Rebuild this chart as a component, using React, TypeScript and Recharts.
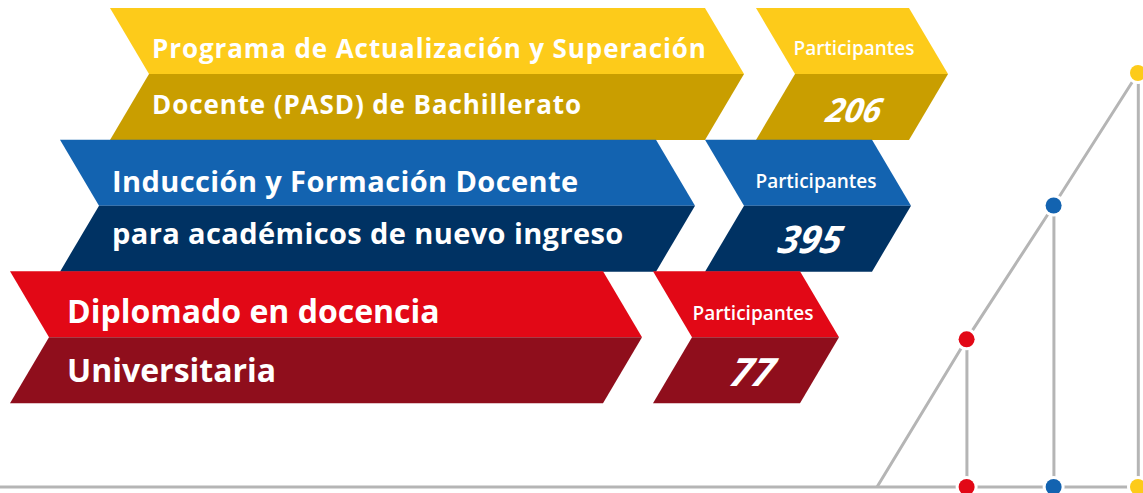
import React from 'react';
import { BarChart, Bar, XAxis, YAxis, ComposedChart, Line, Scatter, ReferenceLine } from 'recharts';

const WIDTH = 1143;
const HEIGHT = 493;
const FONT = '"Open Sans", "Noto Sans", sans-serif';

// programs, top to bottom
const TITLE_LINE_1 = [
  'Programa de Actualización y Superación',
  'Inducción y Formación Docente',
  'Diplomado en docencia',
];
const TITLE_LINE_2 = [
  'Docente (PASD) de Bachillerato',
  'para académicos de nuevo ingreso',
  'Universitaria',
];
const PARTICIPANTS = [206, 395, 77];
const PARTICIPANTS_LABEL = 'Participantes';

// staircase on the right (step position, step height), program shown at each step
const STEP_X = [0, 1.03, 2.03, 3];
const STEP_Y = [0, 1.07, 2.04, 3];
const STEP_PROGRAM = [-1, 2, 1, 0];

const COLORS = [
  { light: '#FDCB1A', dark: '#C99E00' },
  { light: '#1363B0', dark: '#003263' },
  { light: '#E20816', dark: '#8F0E1C' },
];
const GRAY = '#B5B5B5';

// ribbon layout per row (pixels)
const ROWS = [
  { left: 110, titleRight: 705, partLeft: 756, partRight: 909, textX: 152, fs: 26, ls: 0.9, l1: -16, l2: 40, partX: 854, partDy: -19, numX: 852, numSize: 33, numDy: 48 },
  { left: 60, titleRight: 656, partLeft: 705, partRight: 872, textX: 112, fs: 29, ls: 0.4, l1: -14, l2: 38, partX: 816, partDy: -18, numX: 808, numSize: 38, numDy: 47 },
  { left: 10, titleRight: 603, partLeft: 653, partRight: 800, textX: 67, fs: 32, ls: 0, l1: -14, l2: 45, partX: 753, partDy: -17, numX: 750, numSize: 39, numDy: 49 },
];
const ARROW = 39;

const ribbonData = PARTICIPANTS.map((value, i) => ({
  name: TITLE_LINE_1[i],
  sub: TITLE_LINE_2[i],
  value,
}));

const stepData = STEP_X.map((x, i) => ({ x, y: STEP_Y[i], program: STEP_PROGRAM[i] }));
const baseData = stepData.slice(1).map((d) => ({ x: d.x, y: 0, program: d.program }));

// x domain so that the baseline runs across the whole width
const PX_PER_STEP = 87;
const STEP_ORIGIN = 877;
const X_DOMAIN = [-STEP_ORIGIN / PX_PER_STEP, 3 + (WIDTH - STEP_ORIGIN - 3 * PX_PER_STEP) / PX_PER_STEP];

function upper(l: number, r: number, top: number, mid: number) {
  return `M${l},${top} L${r},${top} L${r + ARROW},${mid} L${l + ARROW},${mid} Z`;
}
function lower(l: number, r: number, mid: number, bot: number) {
  return `M${l + ARROW},${mid} L${r + ARROW},${mid} L${r},${bot} L${l},${bot} Z`;
}

function Ribbon(props: any) {
  const { y, height, index, payload } = props;
  const row = ROWS[index];
  const c = COLORS[index];
  const top = y;
  const mid = y + height / 2;
  const bot = y + height;
  return (
    <g>
      <path d={upper(row.left, row.titleRight, top, mid)} fill={c.light} />
      <path d={lower(row.left, row.titleRight, mid, bot)} fill={c.dark} />
      <path d={upper(row.partLeft, row.partRight, top, mid)} fill={c.light} />
      <path d={lower(row.partLeft, row.partRight, mid, bot)} fill={c.dark} />
      <text x={row.textX} y={mid + row.l1} fill="#fff" fontSize={row.fs} fontWeight={700} fontFamily={FONT} letterSpacing={row.ls}>
        {payload.name}
      </text>
      <text x={row.textX} y={mid + row.l2} fill="#fff" fontSize={row.fs} fontWeight={700} fontFamily={FONT} letterSpacing={row.ls}>
        {payload.sub}
      </text>
      <text x={row.partX} y={mid + row.partDy} fill="#fff" fontSize={19} fontWeight={600} fontFamily={FONT} textAnchor="middle">
        {PARTICIPANTS_LABEL}
      </text>
      <text
        transform={`translate(${row.numX},${mid + row.numDy}) skewX(-12)`}
        fill="#fff"
        fontSize={row.numSize}
        fontWeight={700}
        fontStyle="italic"
        fontFamily={FONT}
        textAnchor="middle"
      >
        {payload.value}
      </text>
    </g>
  );
}

function StepDot(props: any) {
  const { cx, cy, payload, index } = props;
  if (payload.program < 0) return <g key={`d${index}`} />;
  return (
    <g key={`d${index}`}>
      <circle cx={cx} cy={cy} r={11} fill="#fff" />
      <circle cx={cx} cy={cy} r={8} fill={COLORS[payload.program].light} />
    </g>
  );
}

export default function App() {
  return (
    <div style={{ position: 'fixed', left: 0, top: 0, width: WIDTH, height: HEIGHT, background: '#fff' }}>
      <div style={{ position: 'absolute', left: 0, top: 0 }}>
        <BarChart
          layout="vertical"
          width={WIDTH}
          height={HEIGHT}
          data={ribbonData}
          margin={{ top: 8, right: 0, bottom: 90, left: 0 }}
          barCategoryGap={0}
        >
          <XAxis type="number" hide domain={[0, 1]} />
          <YAxis type="category" dataKey="name" hide />
          <Bar dataKey={() => 1} shape={Ribbon} isAnimationActive={false} />
        </BarChart>
      </div>
      <div style={{ position: 'absolute', left: 0, top: 0 }}>
        <ComposedChart
          width={WIDTH}
          height={HEIGHT}
          data={stepData}
          margin={{ top: 73, right: 0, bottom: 6, left: 0 }}
        >
          <XAxis type="number" dataKey="x" domain={X_DOMAIN} allowDataOverflow hide />
          <YAxis type="number" domain={[0, 3]} hide />
          <ReferenceLine y={0} stroke={GRAY} strokeWidth={3} />
          <Bar dataKey="y" barSize={3} fill={GRAY} isAnimationActive={false} />
          <Line
            dataKey="y"
            stroke={GRAY}
            strokeWidth={3}
            dot={StepDot}
            activeDot={false}
            isAnimationActive={false}
          />
          <Scatter
            data={baseData}
            dataKey="y"
            isAnimationActive={false}
            shape={(p: any) => (
              <g>
                <circle cx={p.cx} cy={p.cy} r={11} fill="#fff" />
                <circle cx={p.cx} cy={p.cy} r={8} fill={COLORS[p.payload.program].light} />
              </g>
            )}
          />
        </ComposedChart>
      </div>
    </div>
  );
}
